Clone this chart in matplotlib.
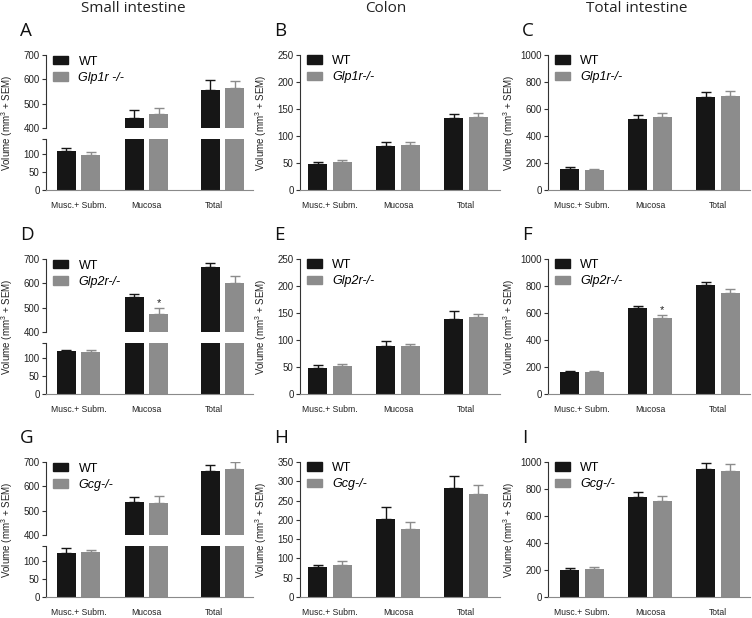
import numpy as np
import matplotlib
matplotlib.use('Agg')
import matplotlib.pyplot as plt
from matplotlib.patches import Patch

plt.rcParams['font.family'] = ['Liberation Sans', 'DejaVu Sans']
plt.rcParams['mathtext.fontset'] = 'custom'
plt.rcParams['mathtext.rm'] = 'Liberation Sans'
plt.rcParams['mathtext.it'] = 'Liberation Sans:italic'

categories = ['Musc.+ Subm.', 'Mucosa', 'Total']
column_titles = ['Small intestine', 'Colon', 'Total intestine']
panel_letters = ['A', 'B', 'C', 'D', 'E', 'F', 'G', 'H', 'I']
ko_labels = ['Glp1r -/-', 'Glp1r-/-', 'Glp1r-/-',
             'Glp2r-/-', 'Glp2r-/-', 'Glp2r-/-',
             'Gcg-/-', 'Gcg-/-', 'Gcg-/-']

# row 1: Glp1r
wt_A = [107, 440, 556]
wt_A_sem = [8, 34, 41]
ko_A = [97, 459, 564]
ko_A_sem = [7, 23, 29]
wt_B = [49, 82, 133]
wt_B_sem = [3, 6, 7]
ko_B = [51, 83, 136]
ko_B_sem = [4, 5, 7]
wt_C = [155, 523, 686]
wt_C_sem = [12, 32, 38]
ko_C = [148, 541, 696]
ko_C_sem = [10, 28, 35]

# row 2: Glp2r
wt_D = [117, 545, 668]
wt_D_sem = [5, 12, 15]
ko_D = [114, 475, 603]
ko_D_sem = [6, 24, 28]
wt_E = [49, 88, 139]
wt_E_sem = [4, 11, 15]
ko_E = [52, 88, 143]
ko_E_sem = [4, 5, 6]
wt_F = [166, 635, 810]
wt_F_sem = [6, 15, 18]
ko_F = [166, 563, 745]
ko_F_sem = [8, 22, 32]

# row 3: Gcg
wt_G = [122, 536, 662]
wt_G_sem = [13, 20, 24]
ko_G = [123, 533, 670]
ko_G_sem = [6, 28, 28]
wt_H = [78, 202, 282]
wt_H_sem = [5, 31, 33]
ko_H = [84, 177, 267]
ko_H_sem = [9, 17, 24]
wt_I = [200, 740, 945]
wt_I_sem = [15, 36, 45]
ko_I = [207, 712, 937]
ko_I_sem = [12, 36, 45]

wt_all = [wt_A, wt_B, wt_C, wt_D, wt_E, wt_F, wt_G, wt_H, wt_I]
wt_sem_all = [wt_A_sem, wt_B_sem, wt_C_sem, wt_D_sem, wt_E_sem, wt_F_sem, wt_G_sem, wt_H_sem, wt_I_sem]
ko_all = [ko_A, ko_B, ko_C, ko_D, ko_E, ko_F, ko_G, ko_H, ko_I]
ko_sem_all = [ko_A_sem, ko_B_sem, ko_C_sem, ko_D_sem, ko_E_sem, ko_F_sem, ko_G_sem, ko_H_sem, ko_I_sem]

# y-range of the right two columns, per row
ymax_mid = [250, 250, 350]
ymax_right = [1000, 1000, 1000]
# broken axis of the left column
upper_range = (400, 700)
lower_range = (0, 140)

# significant differences (panel index, category index)
stars = [(3, 1), (5, 1)]

WT_COLOR = '#161616'
KO_COLOR = '#8c8c8c'
AX_COLOR = '#333333'

W, H = 752, 618
fig = plt.figure(figsize=(W / 100, H / 100), dpi=100)

# layout in pixels
col_left = [46, 300, 548]
col_width = [207, 200, 202]
row_top = [55, 259, 462]
row_h = 135
col_xlim = [(-0.48, 2.57), (-0.44, 2.5), (-0.5, 2.47)]
group_pos = [np.array([0, 1, 2.12]), np.array([0, 1, 2.0]), np.array([0, 1, 2.0])]
tick_pos = np.arange(len(categories))
bw = 0.28
off = 0.18


def px_axes(left, top, w, h):
    return fig.add_axes([left / W, 1 - (top + h) / H, w / W, h / H])


def style(ax, c):
    for s in ['top', 'right']:
        ax.spines[s].set_visible(False)
    ax.spines['left'].set_color(AX_COLOR)
    ax.spines['bottom'].set_color('#8a8a8a')
    ax.tick_params(axis='y', length=3, width=0.8, color=AX_COLOR, labelsize=7,
                   labelcolor='#222222', pad=1.5)
    ax.tick_params(axis='x', length=0, labelsize=6.2, labelcolor='#222222', pad=8)
    ax.set_xlim(*col_xlim[c])


def draw_bars(ax, p, c):
    gx = group_pos[c]
    ax.bar(gx - off, wt_all[p], bw, color=WT_COLOR, edgecolor='none', zorder=2)
    ax.bar(gx + off, ko_all[p], bw, color=KO_COLOR, edgecolor='none', zorder=2)
    ax.errorbar(gx - off, wt_all[p], yerr=[np.zeros(3), wt_sem_all[p]], fmt='none',
                ecolor=WT_COLOR, elinewidth=1, capsize=3.5, capthick=1, zorder=3)
    ax.errorbar(gx + off, ko_all[p], yerr=[np.zeros(3), ko_sem_all[p]], fmt='none',
                ecolor=KO_COLOR, elinewidth=1, capsize=3.5, capthick=1, zorder=3)


def draw_stars(ax, p, c):
    gx = group_pos[c]
    for sp, ci in stars:
        if sp == p:
            ax.text(gx[ci] + off, ko_all[p][ci] + ko_sem_all[p][ci], '*', ha='center',
                    va='bottom', fontsize=8, color='#222222')


def add_legend(ax, p):
    handles = [Patch(color=WT_COLOR), Patch(color=KO_COLOR)]
    leg = ax.legend(handles, ['WT', ko_labels[p]], loc='upper left',
                    bbox_to_anchor=(0.03, 1.01), frameon=False, fontsize=9,
                    borderaxespad=0, borderpad=0.1, handlelength=1.2,
                    handleheight=0.65, handletextpad=0.8, labelspacing=0.35)
    leg.get_texts()[1].set_fontstyle('italic')


for r in range(3):
    for c in range(3):
        p = r * 3 + c
        left = col_left[c]
        top = row_top[r]
        cw = col_width[c]
        if c == 0:
            up_h = 73
            lo_h = 51
            ax_up = px_axes(left, top, cw, up_h)
            ax_lo = px_axes(left, top + row_h - lo_h, cw, lo_h)
            for ax in (ax_up, ax_lo):
                style(ax, c)
                draw_bars(ax, p, c)
            draw_stars(ax_up, p, c)
            ax_up.set_ylim(*upper_range)
            ax_up.set_yticks(np.arange(400, 701, 100))
            ax_up.spines['bottom'].set_visible(False)
            ax_up.set_xticks([])
            ax_lo.set_ylim(*lower_range)
            ax_lo.set_yticks([0, 50, 100, 140])
            ax_lo.set_yticklabels(['0', '50', '100', ''])
            ax_lo.set_xticks(tick_pos)
            ax_lo.set_xticklabels(categories)
            add_legend(ax_up, p)
        else:
            ax = px_axes(left, top, cw, row_h)
            style(ax, c)
            draw_bars(ax, p, c)
            draw_stars(ax, p, c)
            ymax = ymax_mid[r] if c == 1 else ymax_right[r]
            step = 50 if c == 1 else 200
            ax.set_ylim(0, ymax)
            ax.set_yticks(np.arange(0, ymax + 1, step))
            ax.set_xticks(tick_pos)
            ax.set_xticklabels(categories)
            add_legend(ax, p)

        fig.text((left - 39) / W, 1 - (top + row_h / 2) / H,
                 'Volume (mm$^3$ + SEM)', rotation=90, ha='center', va='center',
                 fontsize=7, color='#222222')
        fig.text((left - 26) / W, 1 - (top - 24) / H, panel_letters[p],
                 family=['Open Sans', 'DejaVu Sans'], fontsize=13.5,
                 ha='left', va='center', color='#111111')

title_x = [133, 386, 637]
for c in range(3):
    fig.text(title_x[c] / W, 1 - 9 / H, column_titles[c], ha='center', va='center',
             family=['Open Sans', 'DejaVu Sans'], fontsize=11, color='#222222')

fig.savefig('out.png', dpi=100)
